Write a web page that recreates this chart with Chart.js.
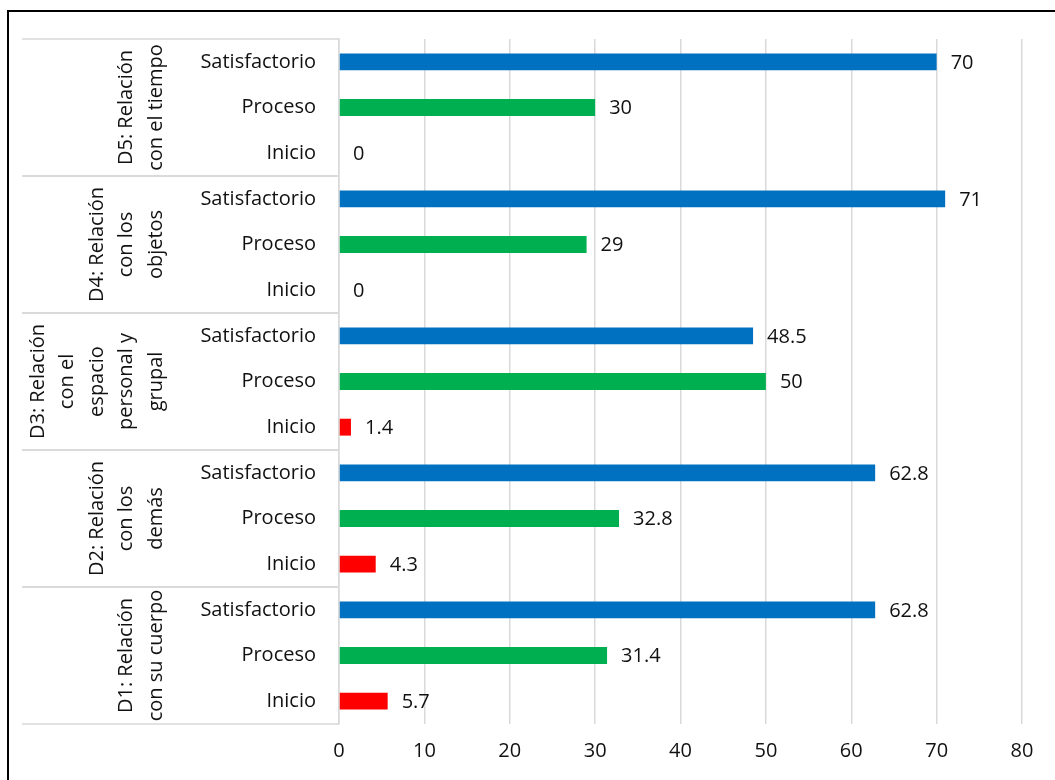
<!DOCTYPE html>
<html>
<head>
<meta charset="utf-8">
<script src="https://cdn.jsdelivr.net/npm/chart.js@4"></script>
<style>
  html, body { margin: 0; padding: 0; background: #fff; overflow: hidden; }
  #wrap { width: 1055px; height: 780px; position: relative; }
</style>
</head>
<body>
<div id="wrap"><canvas id="nivelesChart" width="1055" height="780"></canvas></div>
<script>
// dimensiones (de abajo hacia arriba) y niveles dentro de cada una
const dimensiones = [
    ["D1: Relación", "con su cuerpo"],
    ["D2: Relación", "con los", "demás"],
    ["D3: Relación", "con el", "espacio", "personal y", "grupal"],
    ["D4: Relación", "con los", "objetos"],
    ["D5: Relación", "con el tiempo"]
];
const niveles = ["Inicio", "Proceso", "Satisfactorio"];
const coloresNivel = ["#FF0000", "#00B050", "#0070C0"];

// porcentajes por dimensión: Inicio, Proceso, Satisfactorio
const d1 = [5.7, 31.4, 62.8];
const d2 = [4.3, 32.8, 62.8];
const d3 = [1.4, 50, 48.5];
const d4 = [0, 29, 71];
const d5 = [0, 30, 70];

const ejeX = [0, 10, 20, 30, 40, 50, 60, 70, 80];

const FUENTE = "'Open Sans', 'Noto Sans', sans-serif";
const TAM = 20;

let etiquetas = [];
let valores = [];
let colores = [];
[d1, d2, d3, d4, d5].forEach(d => {
    d.forEach((v, i) => {
        etiquetas.push(niveles[i]);
        valores.push(v);
        colores.push(coloresNivel[i]);
    });
});

// marco negro del gráfico
const marco = {
    id: "marco",
    beforeDraw(chart) {
        const ctx = chart.ctx;
        ctx.save();
        ctx.strokeStyle = "#000";
        ctx.lineWidth = 2;
        ctx.beginPath();
        ctx.moveTo(8, 800);
        ctx.lineTo(8, 11);
        ctx.lineTo(1100, 11);
        ctx.stroke();
        ctx.restore();
    }
};

// valores al final de cada barra
const valoresBarras = {
    id: "valoresBarras",
    afterDatasetsDraw(chart) {
        const ctx = chart.ctx;
        const meta = chart.getDatasetMeta(0);
        ctx.save();
        ctx.font = TAM + "px " + FUENTE;
        ctx.fillStyle = "#111";
        ctx.textAlign = "left";
        ctx.textBaseline = "middle";
        meta.data.forEach((bar, i) => {
            ctx.fillText(String(valores[i]), bar.x + 14, bar.y + 1);
        });
        ctx.restore();
    }
};

// etiquetas de dimensión giradas y líneas separadoras
const grupos = {
    id: "grupos",
    afterDraw(chart) {
        const ctx = chart.ctx;
        const y = chart.scales.y;
        const mitad = Math.abs(y.getPixelForValue(1) - y.getPixelForValue(0)) / 2;
        ctx.save();
        ctx.strokeStyle = "#d9d9d9";
        ctx.lineWidth = 1.5;
        dimensiones.forEach((lineas, g) => {
            const a = y.getPixelForValue(g * 3);
            const b = y.getPixelForValue(g * 3 + 2);
            const arriba = Math.min(a, b) - mitad;
            const abajo = Math.max(a, b) + mitad;
            ctx.beginPath();
            ctx.moveTo(22, arriba);
            ctx.lineTo(chart.chartArea.left, arriba);
            ctx.moveTo(22, abajo);
            ctx.lineTo(chart.chartArea.left, abajo);
            ctx.stroke();

            const centro = (a + b) / 2;
            ctx.save();
            ctx.translate(156, centro);
            ctx.rotate(-Math.PI / 2);
            ctx.font = TAM + "px " + FUENTE;
            ctx.fillStyle = "#111";
            ctx.textAlign = "center";
            ctx.textBaseline = "middle";
            const n = lineas.length;
            lineas.forEach((t, k) => {
                ctx.fillText(t, 0, -(n - 1 - k) * 29.5);
            });
            ctx.restore();
        });
        ctx.restore();
    }
};

new Chart(document.getElementById("nivelesChart").getContext("2d"), {
    type: "bar",
    data: {
        labels: etiquetas,
        datasets: [{
            data: valores,
            backgroundColor: colores,
            barPercentage: 0.37,
            categoryPercentage: 1
        }]
    },
    options: {
        indexAxis: "y",
        responsive: false,
        animation: false,
        layout: { padding: { top: 39, right: 33 } },
        plugins: {
            legend: { display: false },
            tooltip: { enabled: false }
        },
        scales: {
            x: {
                min: 0,
                max: 80,
                afterBuildTicks(scale) {
                    scale.ticks = ejeX.map(v => ({ value: v }));
                },
                afterFit(scale) { scale.height = 56; },
                grid: { color: "#d9d9d9", lineWidth: 1.5, drawTicks: false },
                border: { display: false },
                ticks: {
                    padding: 15,
                    color: "#111",
                    font: { family: FUENTE, size: TAM }
                }
            },
            y: {
                reverse: true,
                afterFit(scale) { scale.width = 339; },
                grid: { display: false, drawTicks: false },
                border: { display: true, color: "#d9d9d9", width: 1.5 },
                ticks: {
                    padding: 23,
                    color: "#111",
                    font: { family: FUENTE, size: TAM }
                }
            }
        }
    },
    plugins: [marco, valoresBarras, grupos]
});
</script>
</body>
</html>
